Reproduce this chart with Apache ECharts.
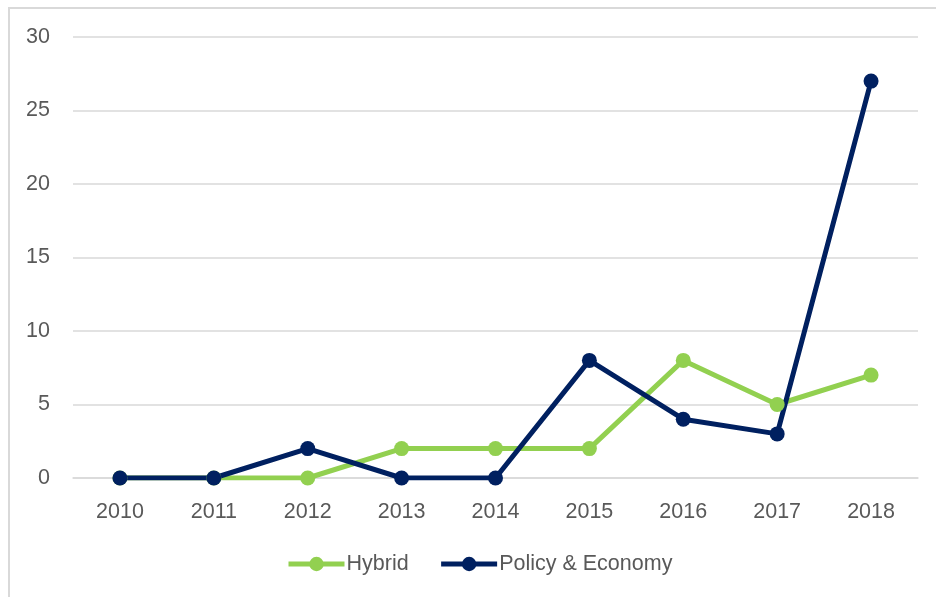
<!DOCTYPE html>
<html>
<head>
<meta charset="utf-8">
<script src="https://cdn.jsdelivr.net/npm/echarts@6/dist/echarts.min.js"></script>
<style>
  html, body { margin: 0; padding: 0; background: #ffffff; }
  #chart { width: 936px; height: 597px; }
</style>
</head>
<body>
<div id="chart"></div>
<script>
// 年份与两条折线的数据
const years = ['2010', '2011', '2012', '2013', '2014', '2015', '2016', '2017', '2018'];
const hybrid = [0, 0, 0, 2, 2, 2, 8, 5, 7];
const policyEconomy = [0, 0, 2, 0, 0, 8, 4, 3, 27];
const seriesNames = ['Hybrid', 'Policy & Economy'];

const textColor = '#595959';
const gridColor = '#d9d9d9';
const fontFamily = '"Liberation Sans", Arial, sans-serif';

const chart = echarts.init(document.getElementById('chart'));

const option = {
    backgroundColor: '#ffffff',
    animation: false,
    textStyle: { fontFamily: fontFamily },
    graphic: [
        {
            type: 'rect',
            shape: { x: 9, y: 8, width: 2000, height: 2000 },
            style: { fill: 'none', stroke: gridColor, lineWidth: 2 },
            silent: true
        }
    ],
    grid: {
        left: 73,
        right: 18,
        top: 37,
        bottom: 119
    },
    legend: {
        data: seriesNames,
        bottom: 17,
        left: 281,
        itemWidth: 56,
        itemHeight: 18,
        itemGap: 30,
        lineStyle: { width: 5 },
        textStyle: {
            color: textColor,
            fontSize: 21.5,
            fontFamily: fontFamily,
            padding: [0, 0, 0, -3]
        }
    },
    xAxis: {
        type: 'category',
        data: years,
        boundaryGap: true,
        axisLine: { show: true, lineStyle: { color: gridColor, width: 1.5 } },
        axisTick: { show: false },
        axisLabel: {
            color: textColor,
            fontSize: 21.5,
            margin: 23
        }
    },
    yAxis: {
        type: 'value',
        min: 0,
        max: 30,
        interval: 5,
        axisLine: { show: false },
        axisTick: { show: false },
        axisLabel: {
            color: textColor,
            fontSize: 21.5,
            margin: 23
        },
        splitLine: {
            lineStyle: { color: gridColor, width: 1.5 }
        }
    },
    series: [
        {
            name: seriesNames[0],
            type: 'line',
            data: hybrid,
            symbol: 'circle',
            symbolSize: 15,
            lineStyle: { color: '#92d050', width: 5 },
            itemStyle: { color: '#92d050' }
        },
        {
            name: seriesNames[1],
            type: 'line',
            data: policyEconomy,
            symbol: 'circle',
            symbolSize: 15,
            lineStyle: { color: '#002060', width: 5 },
            itemStyle: { color: '#002060' }
        }
    ]
};

chart.setOption(option);
</script>
</body>
</html>
